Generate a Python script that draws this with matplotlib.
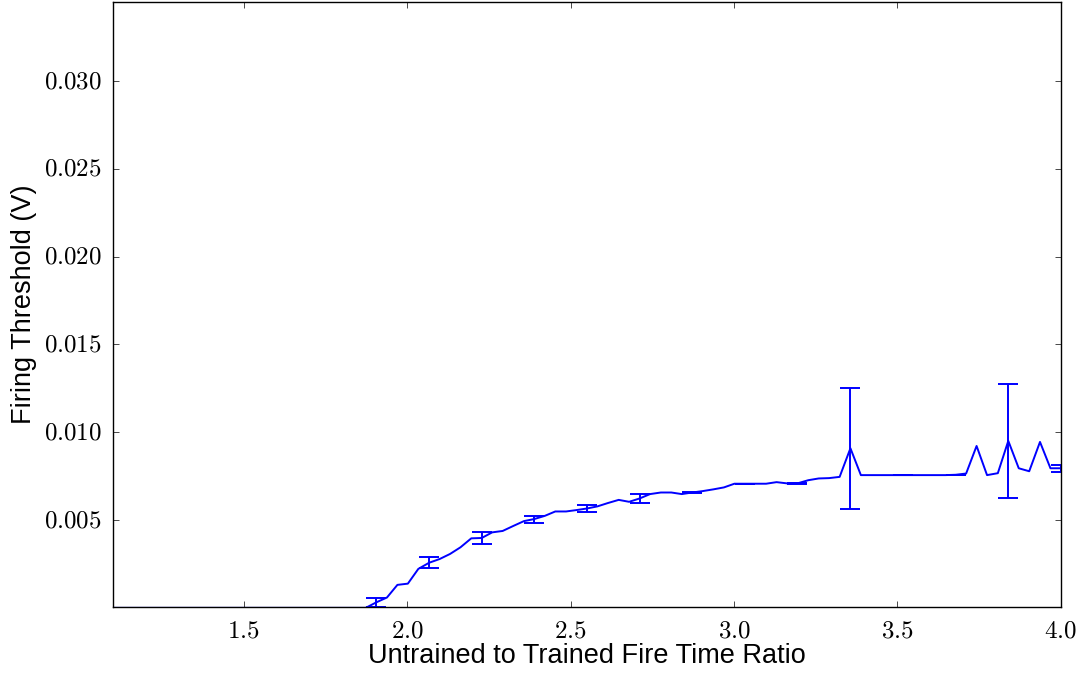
import matplotlib
matplotlib.use('Agg')
import matplotlib.pyplot as plt
from matplotlib.ticker import FuncFormatter, MultipleLocator

# ratio of untrained to trained fire time
ratio = [1.100, 1.132, 1.164, 1.197, 1.229, 1.261, 1.293, 1.326, 1.358, 1.390,
         1.422, 1.454, 1.487, 1.519, 1.551, 1.583, 1.616, 1.648, 1.680, 1.712,
         1.744, 1.777, 1.809, 1.841, 1.873, 1.906, 1.938, 1.970, 2.002, 2.034,
         2.067, 2.099, 2.131, 2.163, 2.196, 2.228, 2.260, 2.292, 2.324, 2.357,
         2.389, 2.421, 2.453, 2.486, 2.518, 2.550, 2.582, 2.614, 2.647, 2.679,
         2.711, 2.743, 2.776, 2.808, 2.840, 2.872, 2.904, 2.937, 2.969, 3.001,
         3.033, 3.066, 3.098, 3.130, 3.162, 3.194, 3.227, 3.259, 3.291, 3.323,
         3.356, 3.388, 3.420, 3.452, 3.484, 3.517, 3.549, 3.581, 3.613, 3.646,
         3.678, 3.710, 3.742, 3.774, 3.807, 3.839, 3.871, 3.903, 3.936, 3.968,
         4.000]

# mean firing threshold (V)
threshold = [0.0, 0.0, 0.0, 0.0, 0.0, 0.0, 0.0, 0.0, 0.0, 0.0,
             0.0, 0.0, 0.0, 0.0, 0.0, 0.0, 0.0, 0.0, 0.0, 0.0,
             0.0, 0.0, 0.0, 0.0, 0.0, 0.00032, 0.00059, 0.00131, 0.00138, 0.00222,
             0.00257, 0.00278, 0.00307, 0.00345, 0.00396, 0.00398, 0.00430, 0.00438, 0.00466, 0.00494,
             0.00506, 0.00524, 0.00549, 0.00549, 0.00557, 0.00566, 0.00578, 0.00597, 0.00615, 0.00604,
             0.00623, 0.00648, 0.00657, 0.00657, 0.00648, 0.00657, 0.00665, 0.00675, 0.00686, 0.00707,
             0.00707, 0.00707, 0.00707, 0.00716, 0.00709, 0.00709, 0.00727, 0.00737, 0.00739, 0.00746,
             0.00909, 0.00756, 0.00756, 0.00756, 0.00756, 0.00756, 0.00756, 0.00756, 0.00756, 0.00756,
             0.00758, 0.00765, 0.00922, 0.00756, 0.00767, 0.00951, 0.00795, 0.00778, 0.00945, 0.00795,
             0.00795]

# std dev, shown on every 5th point
threshold_err = [0.0, 0.0, 0.0, 0.0, 0.0, 0.00027, 0.00031, 0.00036, 0.00020, 0.00019,
                 0.00024, 0.00003, 0.00001, 0.00002, 0.00345, 0.0, 0.0, 0.00324, 0.00019]

plt.style.use('classic')
plt.rcParams.update({'mathtext.fontset': 'cm',
                     'font.family': 'Liberation Sans',
                     'axes.labelsize': 19.5,
                     'savefig.facecolor': 'white'})

fig = plt.figure(figsize=(10.87, 6.77), dpi=100, facecolor='white')
ax = fig.add_axes([0.104, 0.1034, 0.872, 0.8936])

ax.plot(ratio, threshold, color='b', lw=1.4)
ax.errorbar(ratio[::5], threshold[::5], yerr=threshold_err, fmt='none',
            ecolor='b', elinewidth=1.4, capsize=7, capthick=1.4)

ax.set_xlim(1.1, 4.0)
ax.set_ylim(0.00005, 0.0345)
ax.xaxis.set_major_locator(MultipleLocator(0.5))
ax.yaxis.set_major_locator(MultipleLocator(0.005))
ax.xaxis.set_major_formatter(FuncFormatter(lambda v, p: r'$%.1f$' % v))
ax.yaxis.set_major_formatter(FuncFormatter(lambda v, p: r'$%.3f$' % v))
ax.tick_params(labelsize=18, pad=8)

ax.set_xlabel('Untrained to Trained Fire Time Ratio', labelpad=1)
ax.set_ylabel('Firing Threshold (V)', labelpad=5)

fig.savefig('out.png', dpi=100, facecolor='white')
